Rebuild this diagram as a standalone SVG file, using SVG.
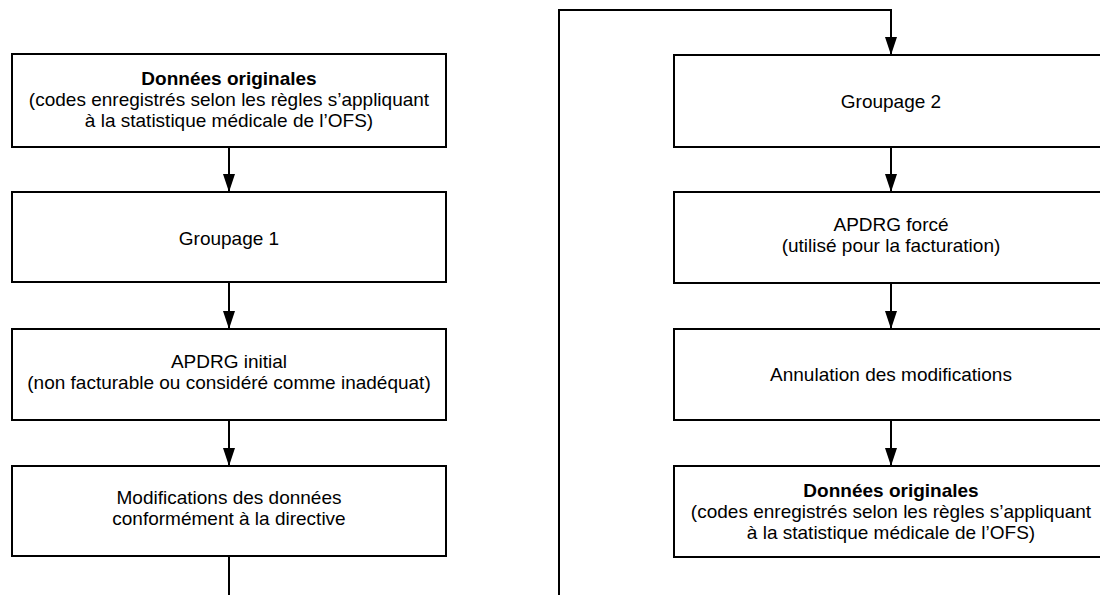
<svg xmlns="http://www.w3.org/2000/svg" width="1100" height="595" viewBox="0 0 1100 595">
<style>
.box{fill:#fff;stroke:#000;stroke-width:2}
.lbl{font-family:"Liberation Sans",Arial,sans-serif;font-size:19px;fill:#000;text-anchor:middle}
.b{font-weight:bold}
.con{fill:none;stroke:#000;stroke-width:2}
</style>
<defs>
<marker id="ah" viewBox="0 0 18 12" refX="18" refY="6" markerWidth="18" markerHeight="12" markerUnits="userSpaceOnUse" orient="auto">
<path d="M0,0 L18,6 L0,12 z" fill="#000"/>
</marker>
</defs>
<rect width="1100" height="595" fill="#fff"/>
<g id="connectors">
<path class="con" d="M229,147 V192" marker-end="url(#ah)"/>
<path class="con" d="M229,282 V329" marker-end="url(#ah)"/>
<path class="con" d="M229,420 V466" marker-end="url(#ah)"/>
<path class="con" d="M229,556 V595"/>
<path class="con" d="M559,595 V10 H891 V55" marker-end="url(#ah)"/>
<path class="con" d="M891,147 V192" marker-end="url(#ah)"/>
<path class="con" d="M891,283 V329" marker-end="url(#ah)"/>
<path class="con" d="M891,420 V466" marker-end="url(#ah)"/>
</g>
<g id="n1">
<rect class="box" x="12" y="54" width="434" height="93"/>
<text class="lbl b" x="229" y="85">Données originales</text>
<text class="lbl" x="229" y="106">(codes enregistrés selon les règles s’appliquant</text>
<text class="lbl" x="229" y="127">à la statistique médicale de l’OFS)</text>
</g>
<g id="n2">
<rect class="box" x="12" y="192" width="434" height="90"/>
<text class="lbl" x="229" y="245">Groupage 1</text>
</g>
<g id="n3">
<rect class="box" x="12" y="329" width="434" height="91"/>
<text class="lbl" x="229" y="368">APDRG initial</text>
<text class="lbl" x="229" y="389">(non facturable ou considéré comme inadéquat)</text>
</g>
<g id="n4">
<rect class="box" x="12" y="466" width="434" height="90"/>
<text class="lbl" x="229" y="504">Modifications des données</text>
<text class="lbl" x="229" y="525">conformément à la directive</text>
</g>
<g id="n5">
<rect class="box" x="674" y="55" width="434" height="92"/>
<text class="lbl" x="891" y="108">Groupage 2</text>
</g>
<g id="n6">
<rect class="box" x="674" y="192" width="434" height="91"/>
<text class="lbl" x="891" y="231">APDRG forcé</text>
<text class="lbl" x="891" y="252">(utilisé pour la facturation)</text>
</g>
<g id="n7">
<rect class="box" x="674" y="329" width="434" height="91"/>
<text class="lbl" x="891" y="381">Annulation des modifications</text>
</g>
<g id="n8">
<rect class="box" x="674" y="466" width="434" height="91"/>
<text class="lbl b" x="891" y="497">Données originales</text>
<text class="lbl" x="891" y="518">(codes enregistrés selon les règles s’appliquant</text>
<text class="lbl" x="891" y="539">à la statistique médicale de l’OFS)</text>
</g>
</svg>
